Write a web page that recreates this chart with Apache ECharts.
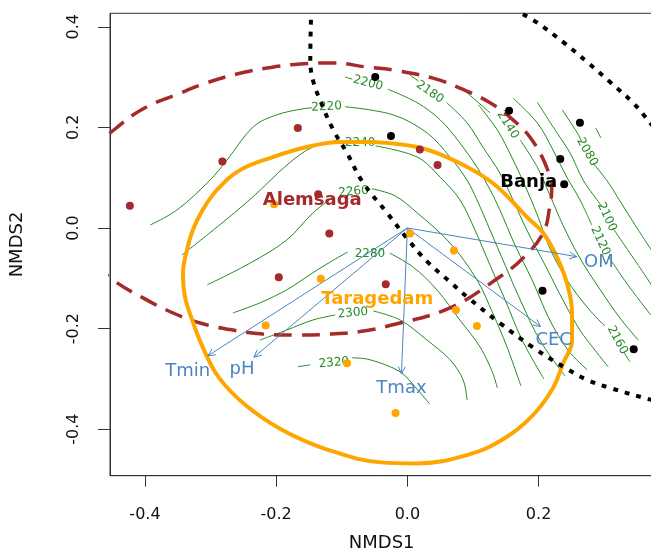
<!DOCTYPE html>
<html><head><meta charset="utf-8">
<script src="https://cdn.jsdelivr.net/npm/echarts@6/dist/echarts.min.js"></script>
<style>html,body{margin:0;padding:0;background:#fff}#c{width:651px;height:554px}</style>
</head><body><div id="c"></div>
<script>
// ---------- data ----------
const xTicks = [-0.4, -0.2, 0.0, 0.2];
const yTicks = [-0.4, -0.2, 0.0, 0.2, 0.4];

const banjaPts = [[-0.049,0.300],[-0.025,0.183],[0.155,0.233],[0.263,0.209],[0.233,0.137],[0.239,0.087],[0.206,-0.125],[0.345,-0.241]];
const alemsagaPts = [[-0.167,0.199],[-0.282,0.132],[-0.136,0.067],[-0.423,0.044],[-0.119,-0.011],[-0.196,-0.098],[-0.033,-0.112],[0.019,0.156],[0.046,0.125]];
const taragedamPts = [[-0.203,0.047],[-0.132,-0.101],[-0.216,-0.194],[-0.092,-0.269],[0.004,-0.011],[0.071,-0.045],[0.074,-0.163],[0.106,-0.195],[-0.018,-0.368]];

const groupNames = ['Alemsaga', 'Banja', 'Taragedam'];
const groupLabelPos = [[-0.145,0.054],[0.185,0.090],[-0.046,-0.141]];

const envNames = ['Tmin', 'pH', 'Tmax', 'OM', 'CEC'];
const envOrigin = [0, 0];
const envArrowEnds = [[-0.304,-0.254],[-0.234,-0.257],[-0.009,-0.290],[0.258,-0.057],[0.203,-0.196]];
const envLabelPos = [[-0.335,-0.285],[-0.252,-0.281],[-0.009,-0.318],[0.292,-0.069],[0.223,-0.223]];

const alemsagaEllipse = [[-0.4945,0.036],[-0.4915,0.095],[-0.476,0.155],[-0.438,0.205],[-0.397,0.241],[-0.354,0.264],[-0.307,0.288],[-0.260,0.306],[-0.214,0.318],[-0.164,0.326],[-0.113,0.328],[-0.062,0.320],[-0.022,0.314],[0.039,0.298],[0.080,0.278],[0.126,0.249],[0.161,0.215],[0.190,0.175],[0.214,0.115],[0.220,0.076],[0.217,0.042],[0.207,-0.010],[0.176,-0.060],[0.141,-0.097],[0.065,-0.159],[-0.027,-0.194],[-0.072,-0.206],[-0.118,-0.211],[-0.168,-0.213],[-0.220,-0.211],[-0.266,-0.203],[-0.316,-0.189],[-0.357,-0.169],[-0.403,-0.139],[-0.449,-0.103],[-0.476,-0.068],[-0.490,-0.024],[-0.4945,0.036]];
const taragedamEllipse = [[-0.052,0.171],[0.015,0.161],[0.060,0.141],[0.100,0.115],[0.137,0.082],[0.182,0.022],[0.207,-0.010],[0.228,-0.058],[0.243,-0.109],[0.251,-0.169],[0.251,-0.223],[0.237,-0.270],[0.222,-0.318],[0.190,-0.374],[0.147,-0.419],[0.092,-0.451],[0.013,-0.468],[-0.040,-0.466],[-0.121,-0.441],[-0.190,-0.402],[-0.245,-0.354],[-0.287,-0.298],[-0.312,-0.237],[-0.328,-0.183],[-0.339,-0.137],[-0.342,-0.089],[-0.336,-0.044],[-0.327,-0.004],[-0.312,0.036],[-0.290,0.076],[-0.255,0.115],[-0.205,0.141],[-0.153,0.161],[-0.103,0.171],[-0.052,0.171]];

const dividerA = [[-0.147,0.414],[-0.148,0.334],[-0.144,0.294],[-0.133,0.254],[-0.113,0.195],[-0.092,0.149],[-0.068,0.091],[-0.031,0.030],[-0.001,-0.020],[0.031,-0.068],[0.065,-0.107],[0.091,-0.137],[0.141,-0.189],[0.191,-0.237],[0.243,-0.280],[0.274,-0.302],[0.309,-0.318],[0.361,-0.338],[0.385,-0.346]];
const dividerB = [[0.176,0.425],[0.198,0.408],[0.237,0.370],[0.274,0.330],[0.309,0.290],[0.344,0.249],[0.370,0.209],[0.385,0.185]];

// contour segments (each level: list of line pieces, broken where the label sits)
const contour2320 = [[[-0.167,-0.276],[-0.148,-0.272]],[[-0.084,-0.258],[-0.057,-0.262],[-0.011,-0.286],[0.013,-0.318],[0.034,-0.350]]];
const contour2300 = [[[-0.225,-0.223],[-0.184,-0.203],[-0.144,-0.183],[-0.110,-0.173]],[[-0.052,-0.165],[-0.011,-0.183],[0.030,-0.223],[0.065,-0.262],[0.085,-0.302],[0.091,-0.342]]];
const contour2280 = [[[-0.266,-0.169],[-0.225,-0.149],[-0.184,-0.123],[-0.144,-0.089],[-0.113,-0.064],[-0.091,-0.048]],[[-0.027,-0.050],[0.009,-0.078],[0.045,-0.123],[0.080,-0.183],[0.111,-0.237],[0.130,-0.288],[0.137,-0.318]]];
const contour2260 = [[[-0.305,-0.113],[-0.240,-0.070],[-0.184,-0.024],[-0.144,0.030],[-0.113,0.062]],[[-0.054,0.078],[-0.019,0.064],[0.015,0.030],[0.065,-0.030],[0.106,-0.103],[0.130,-0.169],[0.152,-0.237],[0.173,-0.314]]];
const contour2240 = [[[-0.344,-0.054],[-0.290,0.002],[-0.237,0.060],[-0.182,0.127],[-0.144,0.161],[-0.103,0.175]],[[-0.048,0.163],[0.015,0.141],[0.050,0.101],[0.080,0.056],[0.103,-0.004],[0.126,-0.074],[0.149,-0.143],[0.175,-0.223],[0.208,-0.300]]];
const contour2220 = [[[-0.392,0.006],[-0.351,0.036],[-0.301,0.095],[-0.275,0.135],[-0.235,0.201],[-0.199,0.225],[-0.159,0.237],[-0.145,0.239]],[[-0.095,0.241],[-0.022,0.225],[0.030,0.189],[0.065,0.141],[0.091,0.095],[0.106,0.056],[0.126,-0.004],[0.149,-0.074],[0.172,-0.143],[0.202,-0.223],[0.240,-0.294]]];
const contour2200 = [[[-0.095,0.300],[-0.084,0.296]],[[-0.030,0.276],[0.015,0.249],[0.050,0.215],[0.080,0.169],[0.106,0.121],[0.126,0.076],[0.141,0.036],[0.164,-0.034],[0.190,-0.103],[0.217,-0.183],[0.245,-0.243],[0.274,-0.282]]];
const contour2180 = [[[0.004,0.304],[0.017,0.292]],[[0.060,0.249],[0.091,0.209],[0.115,0.161],[0.141,0.109],[0.161,0.056],[0.182,-0.004],[0.210,-0.074],[0.237,-0.143],[0.263,-0.203],[0.286,-0.243],[0.306,-0.276]]];
const contour2160 = [[[0.108,0.245],[0.137,0.195],[0.159,0.141],[0.179,0.085],[0.198,0.026],[0.217,-0.040],[0.243,-0.103],[0.275,-0.159],[0.301,-0.195]],[[0.330,-0.247],[0.339,-0.266]]];
const contour2140 = [[[0.083,0.278],[0.126,0.229]],[[0.172,0.175],[0.198,0.121],[0.217,0.066],[0.237,0.006],[0.263,-0.060],[0.294,-0.123],[0.324,-0.179],[0.352,-0.223]]];
const contour2120 = [[[0.161,0.258],[0.198,0.209],[0.222,0.155],[0.243,0.101],[0.263,0.056],[0.281,0.006]],[[0.306,-0.056],[0.336,-0.113],[0.371,-0.173]]];
const contour2100 = [[[0.198,0.250],[0.222,0.201],[0.248,0.149],[0.268,0.095],[0.289,0.056],[0.297,0.042]],[[0.313,0.000],[0.355,-0.080],[0.377,-0.123]]];
const contour2080 = [[[0.236,0.235],[0.259,0.189],[0.266,0.171]],[[0.283,0.129],[0.306,0.091],[0.320,0.062],[0.347,0.006],[0.377,-0.054]]];
const contour2060 = [[[0.287,0.199],[0.295,0.179]]];

const contourLevels = [2320, 2300, 2280, 2260, 2240, 2220, 2200, 2180, 2160, 2140, 2120, 2100, 2080];
const contourLabelPos = [[-0.112,-0.268],[-0.083,-0.169],[-0.057,-0.052],[-0.082,0.072],[-0.072,0.169],[-0.123,0.241],[-0.060,0.288],[0.034,0.270],[0.320,-0.223],[0.153,0.205],[0.294,-0.026],[0.304,0.022],[0.274,0.151]];
const contourLabelRotation = [5, 5, 0, 5, 0, 3, -15, -35, -62, -58, -65, -65, -60];

// ---------- chart ----------
const contourSets = [contour2320, contour2300, contour2280, contour2260, contour2240, contour2220, contour2200, contour2180, contour2160, contour2140, contour2120, contour2100, contour2080, contour2060];
const GREEN = '#238B23', RED = '#A52A2A', ORANGE = '#FFA500', BLUE = '#4A86C0';
const FONT = 'DejaVu Sans';

const series = [];
contourSets.forEach(set => set.forEach(seg => series.push({
  type: 'line', data: seg, smooth: 0.35, symbol: 'none', silent: true, z: 1,
  lineStyle: { color: GREEN, width: 1 }
})));
series.push({ type: 'line', data: alemsagaEllipse, smooth: 0.4, symbol: 'none', z: 3,
  lineStyle: { color: RED, width: 3.5, type: [18, 10] } });
series.push({ type: 'line', data: taragedamEllipse, smooth: 0.4, symbol: 'none', z: 3,
  lineStyle: { color: ORANGE, width: 4 } });
[dividerA, dividerB].forEach(d => series.push({ type: 'line', data: d, smooth: 0.4, symbol: 'none', z: 4,
  lineStyle: { color: '#000', width: 4, type: [5, 7] } }));
series.push({
  type: 'custom', z: 5,
  data: envArrowEnds.map(e => [envOrigin[0], envOrigin[1], e[0], e[1]]),
  renderItem: function (params, api) {
    const p0 = api.coord([api.value(0), api.value(1)]);
    const p1 = api.coord([api.value(2), api.value(3)]);
    const ang = Math.atan2(p1[1] - p0[1], p1[0] - p0[0]);
    const L = 8, a = Math.PI / 7;
    const h1 = [p1[0] - L * Math.cos(ang - a), p1[1] - L * Math.sin(ang - a)];
    const h2 = [p1[0] - L * Math.cos(ang + a), p1[1] - L * Math.sin(ang + a)];
    return { type: 'group', children: [
      { type: 'line', shape: { x1: p0[0], y1: p0[1], x2: p1[0], y2: p1[1] }, style: { stroke: BLUE, lineWidth: 1 } },
      { type: 'polyline', shape: { points: [h1, p1, h2] }, style: { stroke: BLUE, lineWidth: 1, fill: null } }
    ] };
  }
});
[[alemsagaPts, RED], [banjaPts, '#000'], [taragedamPts, ORANGE]].forEach(([pts, col]) => series.push({
  type: 'scatter', data: pts, symbolSize: 8, z: 6, itemStyle: { color: col, opacity: 1 }
}));
// text annotations drawn with a custom series so they keep full opacity and rotation
function textSeries(positions, texts, colors, style, rotations, z) {
  return {
    type: 'custom', z: z, silent: true,
    data: positions.map(p => [p[0], p[1]]),
    renderItem: function (params, api) {
      const i = params.dataIndex;
      const p = api.coord([api.value(0), api.value(1)]);
      return {
        type: 'text', x: p[0], y: p[1],
        rotation: (rotations ? rotations[i] : 0) * Math.PI / 180,
        style: Object.assign({ text: String(texts[i]), fill: colors[i], align: 'center', verticalAlign: 'middle', fontFamily: FONT }, style)
      };
    }
  };
}
series.push(textSeries(contourLabelPos, contourLevels, contourLevels.map(() => GREEN), { fontSize: 12 }, contourLabelRotation, 2));
series.push(textSeries(envLabelPos, envNames, envNames.map(() => BLUE), { fontSize: 18 }, null, 7));
series.push(textSeries(groupLabelPos, groupNames, [RED, '#000', ORANGE], { fontSize: 18, fontWeight: 'bold' }, null, 8));

const axisCommon = {
  type: 'value', splitLine: { show: false },
  axisLine: { show: true, onZero: false, lineStyle: { color: '#333', width: 1 } },
  nameLocation: 'middle',
  nameTextStyle: { fontFamily: FONT, fontSize: 18, color: '#111' }
};
const chart = echarts.init(document.getElementById('c'), null, { renderer: 'canvas' });
chart.setOption({
  animation: false,
  backgroundColor: '#fff',
  grid: { left: 110, top: 13.3, width: 543.4, height: 462.4, show: true, borderColor: '#333', borderWidth: 1, outerBoundsMode: 'none', containLabel: false },
  xAxis: Object.assign({}, axisCommon, {
    min: -0.4533, max: 0.375, name: 'NMDS1', nameGap: 59,
    axisTick: { show: true, length: 11, customValues: xTicks, lineStyle: { color: '#333' } },
    axisLabel: { customValues: xTicks, formatter: v => v.toFixed(1), fontFamily: FONT, fontSize: 16, color: '#111', margin: 31 }
  }),
  yAxis: Object.assign({}, axisCommon, {
    min: -0.4925, max: 0.4268, name: 'NMDS2', nameGap: 84,
    axisTick: { show: true, length: 12, customValues: yTicks, lineStyle: { color: '#333' } },
    axisLabel: { customValues: yTicks, formatter: v => v.toFixed(1), fontFamily: FONT, fontSize: 16, color: '#111', margin: 28, rotate: 90 }
  }),
  series: series
});
</script></body></html>
